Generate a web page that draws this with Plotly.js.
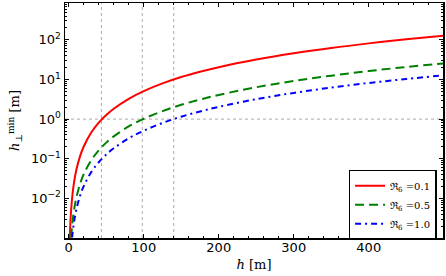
<!DOCTYPE html>
<html><head><meta charset="utf-8">
<script src="https://cdn.plot.ly/plotly-3.0.1.min.js"></script>
<style>html,body{margin:0;padding:0;background:#fff;}#chart{width:446px;height:276px;}</style>
</head><body><div id="chart"></div>
<script>
// Data
const hRed   = [1.4, 2, 3, 5, 7, 10, 15, 20, 30, 40, 50, 60, 80, 100, 125, 150, 175, 200, 250, 300, 350, 400, 450, 500];
const yRed   = [0.001, 0.00204, 0.00459, 0.0127, 0.025, 0.051, 0.115, 0.204, 0.459, 0.815, 1.27, 1.83, 3.26, 5.1, 7.96, 11.5, 15.6, 20.4, 31.8, 45.9, 62.4, 81.5, 103, 127];
const hGreen = [3.2, 4, 5, 7, 10, 15, 20, 30, 40, 50, 60, 80, 100, 125, 150, 175, 200, 250, 300, 350, 400, 450, 500];
const yGreen = [0.00104, 0.00163, 0.00255, 0.005, 0.0102, 0.023, 0.0408, 0.0918, 0.163, 0.255, 0.367, 0.653, 1.02, 1.59, 2.3, 3.12, 4.08, 6.38, 9.18, 12.5, 16.3, 20.7, 25.5];
const hBlue  = [4.5, 5, 7, 10, 15, 20, 30, 40, 50, 60, 80, 100, 125, 150, 175, 200, 250, 300, 350, 400, 450, 500];
const yBlue  = [0.00103, 0.00128, 0.0025, 0.0051, 0.0115, 0.0204, 0.0459, 0.0816, 0.128, 0.184, 0.327, 0.51, 0.80, 1.15, 1.56, 2.04, 3.19, 4.59, 6.25, 8.16, 10.3, 12.8];
const seriesNames = ["ℜ<sub>6</sub> =0.1", "ℜ<sub>6</sub> =0.5", "ℜ<sub>6</sub> =1.0"];
const refH = [43.6, 98, 140];   // vertical dotted reference lines
const refY = [1];               // horizontal dotted reference line
const xTickVals = [0, 100, 200, 300, 400];
const yTickVals = [0.01, 0.1, 1, 10, 100];
const yTickText = ["10<sup>−2</sup>", "10<sup>−1</sup>", "10<sup>0</sup>", "10<sup>1</sup>", "10<sup>2</sup>"];

const traces = [
  {x: hRed, y: yRed, name: seriesNames[0], mode: 'lines', line: {color: '#ff0000', width: 2, shape: 'spline'}},
  {x: hGreen, y: yGreen, name: seriesNames[1], mode: 'lines', line: {color: '#008000', width: 2, dash: '9px,5px', shape: 'spline'}},
  {x: hBlue, y: yBlue, name: seriesNames[2], mode: 'lines', line: {color: '#0000ff', width: 2, dash: '6px,4px,2px,4px', shape: 'spline'}}
];

const shapes = [];
refH.forEach(v => shapes.push({type: 'line', xref: 'x', yref: 'paper', x0: v, x1: v, y0: 0, y1: 1,
  line: {color: '#aaaaaa', width: 1, dash: 'dot'}, layer: 'below'}));
refY.forEach(v => shapes.push({type: 'line', xref: 'paper', yref: 'y', x0: 0, x1: 1, y0: v, y1: v,
  line: {color: '#aaaaaa', width: 1, dash: 'dot'}, layer: 'below'}));

const layout = {
  width: 446, height: 276,
  margin: {l: 65, r: 3, t: 3, b: 38},
  paper_bgcolor: '#fff', plot_bgcolor: '#fff',
  font: {family: 'DejaVu Sans', size: 13, color: '#000'},
  showlegend: true,
  legend: {x: 0.983, y: 0.29, xanchor: 'right', yanchor: 'top', bgcolor: '#fff',
    bordercolor: '#000', borderwidth: 1.5, font: {family: 'DejaVu Serif', size: 10},
    itemwidth: 30, tracegroupgap: 0},
  xaxis: {
    range: [-5, 499], showgrid: false, zeroline: false,
    showline: true, linecolor: '#000', linewidth: 1.5, mirror: 'ticks',
    ticks: 'inside', ticklen: 4, tickcolor: '#000',
    tickvals: xTickVals, ticklabelstandoff: -3,
    minor: {ticks: 'inside', ticklen: 2, dtick: 20, tickcolor: '#000', showgrid: false},
    title: {text: '<i>h</i> [m]', font: {family: 'DejaVu Serif', size: 13}, standoff: 6}
  },
  yaxis: {
    type: 'log', range: [-3, 2.93], showgrid: false, zeroline: false,
    showline: true, linecolor: '#000', linewidth: 1.5, mirror: 'ticks',
    ticks: 'inside', ticklen: 4, tickcolor: '#000',
    tickvals: yTickVals, ticktext: yTickText,
    minor: {ticks: 'inside', ticklen: 2, dtick: 'D1', tickcolor: '#000', showgrid: false},
    title: {text: '<i>h</i><sub>⊥</sub><sup>min</sup> [m]', font: {family: 'DejaVu Serif', size: 13}, standoff: 8}
  },
  shapes: shapes
};

Plotly.newPlot('chart', traces, layout, {displayModeBar: false, staticPlot: true});
</script></body></html>
